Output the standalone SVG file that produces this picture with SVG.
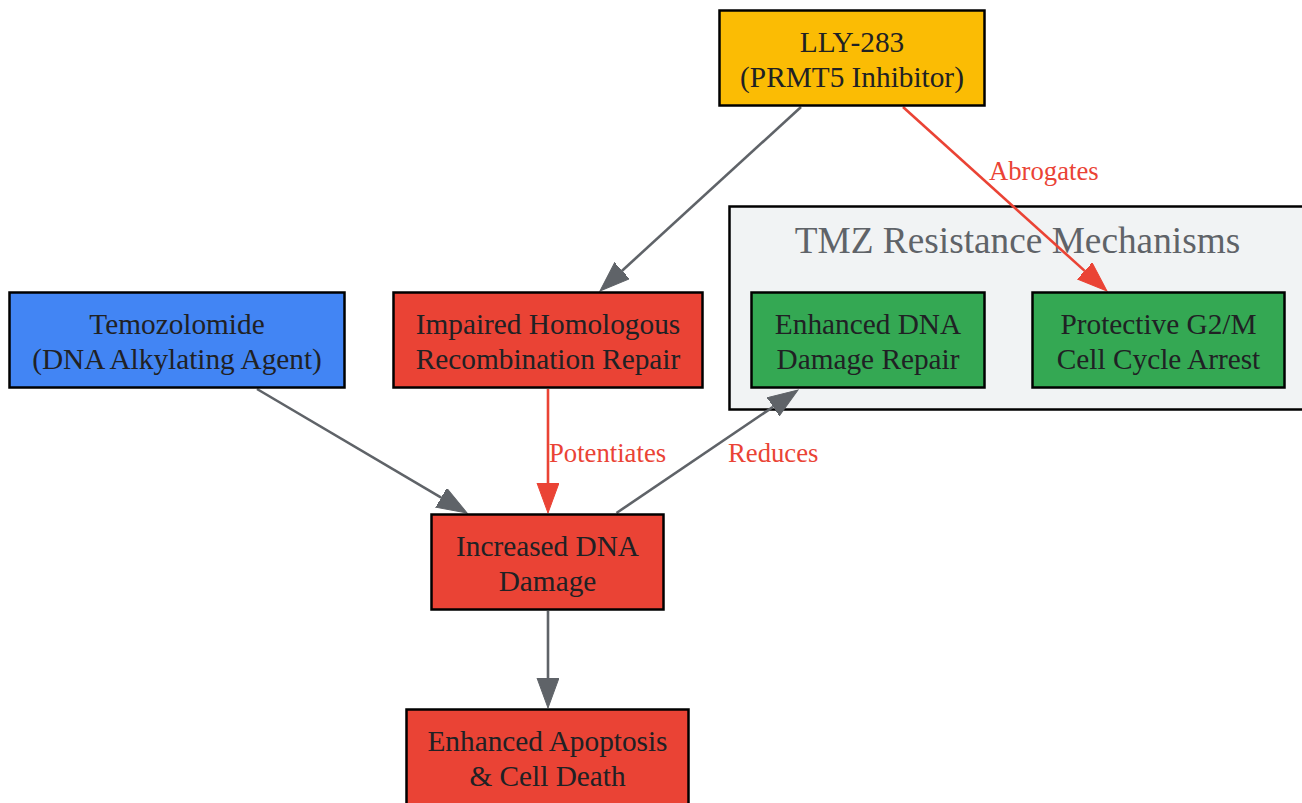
<svg xmlns="http://www.w3.org/2000/svg" width="1302" height="803" viewBox="0 0 1302 803">
<style>
.node rect{stroke:#000;stroke-width:2.5}
.nt{font-family:"Liberation Serif","Times New Roman",serif;font-size:29.3px;fill:#202124;text-anchor:middle}
.el{font-family:"Liberation Serif","Times New Roman",serif;font-size:26.7px;fill:#EA4335;text-anchor:start}
.eg{stroke:#5F6368;stroke-width:2.6;fill:none}
.er{stroke:#EA4335;stroke-width:2.6;fill:none}
</style>
<defs>
<marker id="ag" markerUnits="userSpaceOnUse" markerWidth="31" markerHeight="24" refX="0" refY="11" orient="auto" viewBox="0 0 31 24"><path d="M0,0 L30,11 L0,22 z" fill="#5F6368" stroke="#5F6368" stroke-width="1"/></marker>
<marker id="ar" markerUnits="userSpaceOnUse" markerWidth="31" markerHeight="24" refX="0" refY="11" orient="auto" viewBox="0 0 31 24"><path d="M0,0 L30,11 L0,22 z" fill="#EA4335" stroke="#EA4335" stroke-width="1"/></marker>
</defs>
<rect width="1302" height="803" fill="#fff"/>
<g id="cluster_tmz">
<rect x="729.5" y="206.5" width="590" height="203" fill="#F1F3F4" stroke="#000" stroke-width="2.5"/>
<text x="1017.5" y="253" style="font-family:'Liberation Serif','Times New Roman',serif;font-size:37.3px;fill:#5F6368;text-anchor:middle">TMZ Resistance Mechanisms</text>
</g>
<g id="connectors">
<line class="eg" x1="801" y1="107" x2="622.1" y2="270.7" marker-end="url(#ag)"/>
<line class="er" x1="903" y1="107" x2="1084.7" y2="270.9" marker-end="url(#ar)"/>
<text class="el" x="989" y="180">Abrogates</text>
<line class="eg" x1="257" y1="389" x2="441.2" y2="497.7" marker-end="url(#ag)"/>
<line class="er" x1="548" y1="389" x2="548" y2="483" marker-end="url(#ar)"/>
<text class="el" x="549" y="462">Potentiates</text>
<line class="eg" x1="616.5" y1="513" x2="773.1" y2="406.8" marker-end="url(#ag)"/>
<text class="el" x="728" y="462">Reduces</text>
<line class="eg" x1="548" y1="611" x2="548" y2="678" marker-end="url(#ag)"/>
</g>
<g id="lly283" class="node">
<rect x="719.5" y="10.5" width="265" height="95" fill="#FBBC04"/>
<text class="nt" x="852" y="51.5">LLY-283</text>
<text class="nt" x="852" y="87">(PRMT5 Inhibitor)</text>
</g>
<g id="temozolomide" class="node">
<rect x="9.5" y="292.5" width="335" height="95" fill="#4285F4"/>
<text class="nt" x="177" y="333.5">Temozolomide</text>
<text class="nt" x="177" y="369">(DNA Alkylating Agent)</text>
</g>
<g id="impaired_hr" class="node">
<rect x="393.5" y="292.5" width="309" height="95" fill="#EA4335"/>
<text class="nt" x="548" y="333.5">Impaired Homologous</text>
<text class="nt" x="548" y="369">Recombination Repair</text>
</g>
<g id="enhanced_repair" class="node">
<rect x="751.5" y="292.5" width="233" height="95" fill="#34A853"/>
<text class="nt" x="868" y="333.5">Enhanced DNA</text>
<text class="nt" x="868" y="369">Damage Repair</text>
</g>
<g id="g2m_arrest" class="node">
<rect x="1032.5" y="292.5" width="252" height="95" fill="#34A853"/>
<text class="nt" x="1158.5" y="333.5">Protective G2/M</text>
<text class="nt" x="1158.5" y="369">Cell Cycle Arrest</text>
</g>
<g id="increased_damage" class="node">
<rect x="431.5" y="514.5" width="232" height="95" fill="#EA4335"/>
<text class="nt" x="547.5" y="555.5">Increased DNA</text>
<text class="nt" x="547.5" y="591">Damage</text>
</g>
<g id="apoptosis" class="node">
<rect x="406.5" y="709.5" width="282" height="100" fill="#EA4335"/>
<text class="nt" x="547.5" y="750.5">Enhanced Apoptosis</text>
<text class="nt" x="547.5" y="786">&amp; Cell Death</text>
</g>
</svg>
